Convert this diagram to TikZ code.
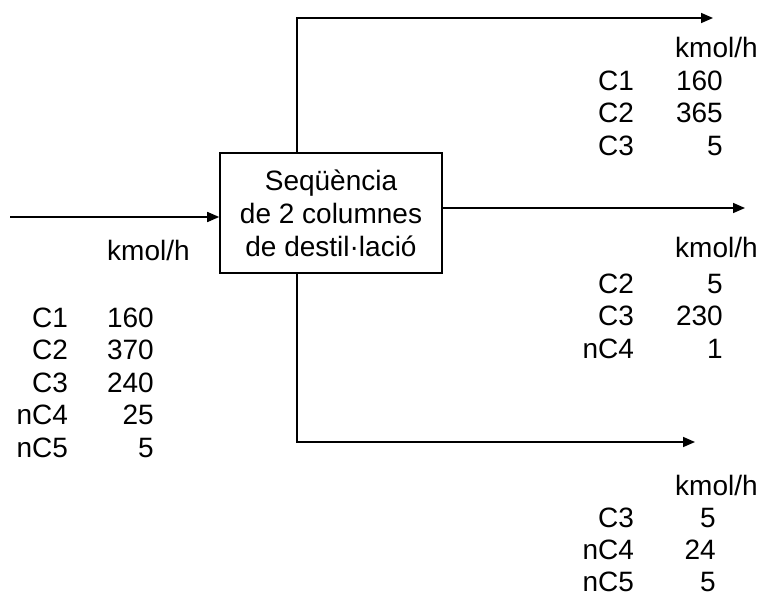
\documentclass[tikz,border=0pt]{standalone}
\usepackage{fontspec}
\setmainfont{Liberation Sans}
\usetikzlibrary{arrows.meta}
\tikzset{
  flow/.style={line width=1.6pt,-{Triangle[length=12pt,width=10pt]}},
  plain/.style={line width=1.6pt},
  lbl/.style={inner sep=0pt,font=\fontsize{28}{33}\selectfont},
  unitbox/.style={draw,line width=1.6pt,minimum width=222pt,minimum height=120pt,inner sep=0pt,align=center,font=\fontsize{28}{33}\selectfont}
}
\begin{document}
\begin{tikzpicture}[x=1pt,y=-1pt]
\useasboundingbox (0,0) rectangle (763,597);
% box
\node[unitbox] (box) at (331,213) {Seqüència\\de 2 columnes\\de destil·lació};
% coordinates
\coordinate (in) at (10,217);
\coordinate (vx) at (297,0);
\coordinate (topend) at (713,18);
\coordinate (midend) at (745,208);
\coordinate (botend) at (695,442);
% connectors
\draw[flow] (in) -- (box.west |- in);
\draw[flow] (vx |- box.north) |- (topend);
\draw[flow] (box.east |- midend) -- (midend);
\draw[flow] (vx |- box.south) |- (botend);
% feed table
\node[lbl,anchor=base west] (fu) at (107,260) {kmol/h};
\node[lbl,anchor=base west] (f1) at (32,327) {C1};
\node[lbl,anchor=base west] (f2) at (32,359) {C2};
\node[lbl,anchor=base west] (f3) at (32,392) {C3};
\node[lbl,anchor=base west] (f4) at (32,424) {\llap{n}C4};
\node[lbl,anchor=base west] (f5) at (32,457) {\llap{n}C5};
\node[lbl,anchor=base east] (v1) at (154,327) {160};
\node[lbl,anchor=base east] (v2) at (154,359) {370};
\node[lbl,anchor=base east] (v3) at (154,392) {240};
\node[lbl,anchor=base east] (v4) at (154,424) {25};
\node[lbl,anchor=base east] (v5) at (154,457) {5};
% top product
\node[lbl,anchor=base west] (tu) at (675,57) {kmol/h};
\node[lbl,anchor=base west] (t1) at (598,90) {C1};
\node[lbl,anchor=base west] (t2) at (598,122) {C2};
\node[lbl,anchor=base west] (t3) at (598,155) {C3};
\node[lbl,anchor=base east] (tv1) at (723,90) {160};
\node[lbl,anchor=base east] (tv2) at (723,122) {365};
\node[lbl,anchor=base east] (tv3) at (723,155) {5};
% middle product
\node[lbl,anchor=base west] (mu) at (675,257) {kmol/h};
\node[lbl,anchor=base west] (m1) at (598,293) {C2};
\node[lbl,anchor=base west] (m2) at (598,325) {C3};
\node[lbl,anchor=base west] (m3) at (598,358) {\llap{n}C4};
\node[lbl,anchor=base east] (mv1) at (723,293) {5};
\node[lbl,anchor=base east] (mv2) at (723,325) {230};
\node[lbl,anchor=base east] (mv3) at (723,358) {1};
% bottom product
\node[lbl,anchor=base west] (bu) at (675,495) {kmol/h};
\node[lbl,anchor=base west] (b1) at (598,527) {C3};
\node[lbl,anchor=base west] (b2) at (598,559) {\llap{n}C4};
\node[lbl,anchor=base west] (b3) at (598,591) {\llap{n}C5};
\node[lbl,anchor=base east] (bv1) at (716,527) {5};
\node[lbl,anchor=base east] (bv2) at (716,559) {24};
\node[lbl,anchor=base east] (bv3) at (716,591) {5};
\end{tikzpicture}
\end{document}
